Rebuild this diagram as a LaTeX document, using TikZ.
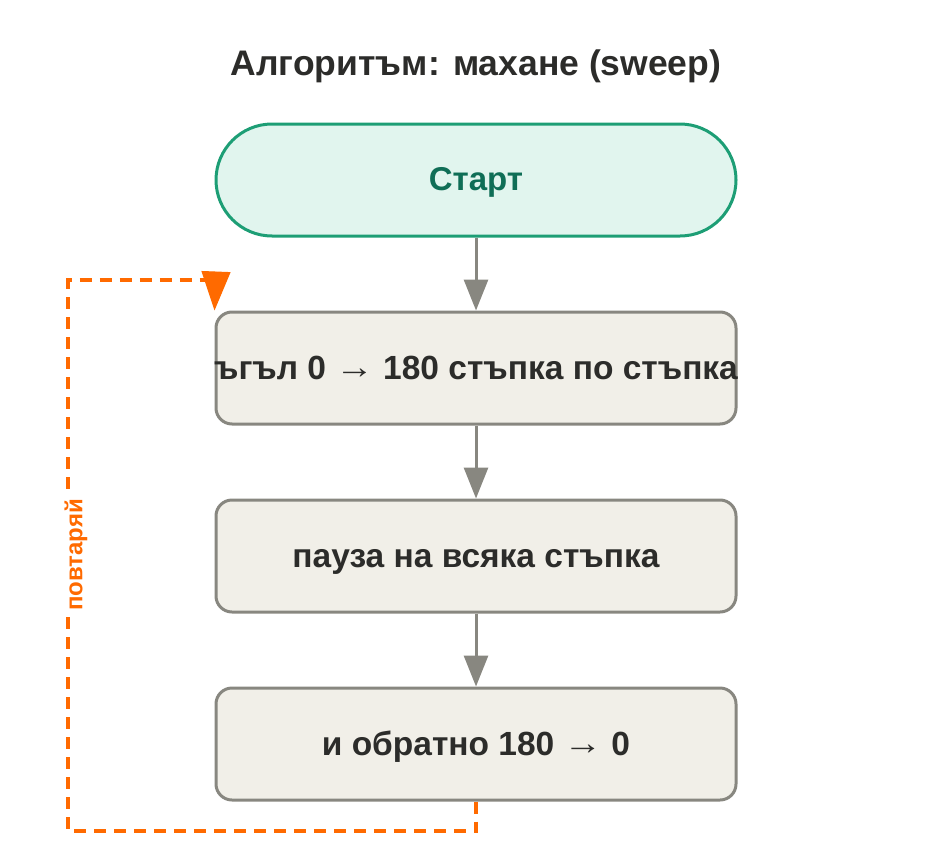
\documentclass[tikz,border=0pt]{standalone}
\usepackage{fontspec}
\setmainfont{Liberation Sans}
\usetikzlibrary{arrows.meta}
\definecolor{startfill}{HTML}{E1F5EE}
\definecolor{startline}{HTML}{1D9E75}
\definecolor{starttext}{HTML}{0F6E56}
\definecolor{boxfill}{HTML}{F1EFE8}
\definecolor{boxline}{HTML}{888780}
\definecolor{boxtext}{HTML}{2C2C2A}
\definecolor{loopcol}{HTML}{FF6A00}
\newcommand{\rarr}{\raisebox{1pt}{\scalebox{1.15}[1]{→}}}
\tikzset{
  startbox/.style={rectangle, rounded corners=56pt, draw=startline, fill=startfill, line width=3pt,
    minimum width=520pt, minimum height=112pt, text=starttext, font=\fontsize{33}{38}\selectfont\bfseries,
    text height=20pt, text depth=0pt},
  procbox/.style={rectangle, rounded corners=16pt, draw=boxline, fill=boxfill, line width=3pt,
    minimum width=520pt, minimum height=112pt, inner xsep=0pt, text=boxtext, font=\fontsize{33.5}{38}\selectfont\bfseries,
    text height=22pt, text depth=0pt},
  flow/.style={draw=boxline, line width=3pt, -{Triangle[width=24pt,length=31pt]}},
  loopline/.style={draw=loopcol, line width=4pt, dash pattern=on 12pt off 8pt},
}
\begin{document}
\begin{tikzpicture}[x=1pt,y=-1pt]
\useasboundingbox (0,0) rectangle (952,864);
\node[text=boxtext, font=\fontsize{35.5}{40}\selectfont\bfseries, text height=24pt, text depth=0pt] (title) at (476,64) {Алгоритъм: махане (sweep)};
\node[startbox] (start) at (476,180) {Старт};
\node[procbox] (b1) at (476,368) {\makebox[480pt][c]{ъгъл 0 \rarr{} 180 стъпка по стъпка}};
\node[procbox] (b2) at (476,556) {пауза на всяка стъпка};
\node[procbox] (b3) at (476,744) {и обратно 180 \rarr{} 0};
\draw[flow] (start) -- (b1);
\draw[flow] (b1) -- (b2);
\draw[flow] (b2) -- (b3);
\coordinate (lb) at (476,831);
\coordinate (ll) at (68,831);
\coordinate (lt) at (68,280);
\coordinate (lr) at (216,280);
\coordinate (lh) at (216,272);
\draw[loopline] (b3.south) -- (lb) -- (ll) -- (lt) -- (lr);
\draw[draw=loopcol, line width=1pt, -{Triangle[width=29pt,length=39pt]}] (lh) -- (b1.north west);
\node[rotate=90, fill=white, inner sep=4pt, text=loopcol, font=\fontsize{24}{28}\selectfont\bfseries] (lbl) at (76,555) {повтаряй};
\end{tikzpicture}
\end{document}
